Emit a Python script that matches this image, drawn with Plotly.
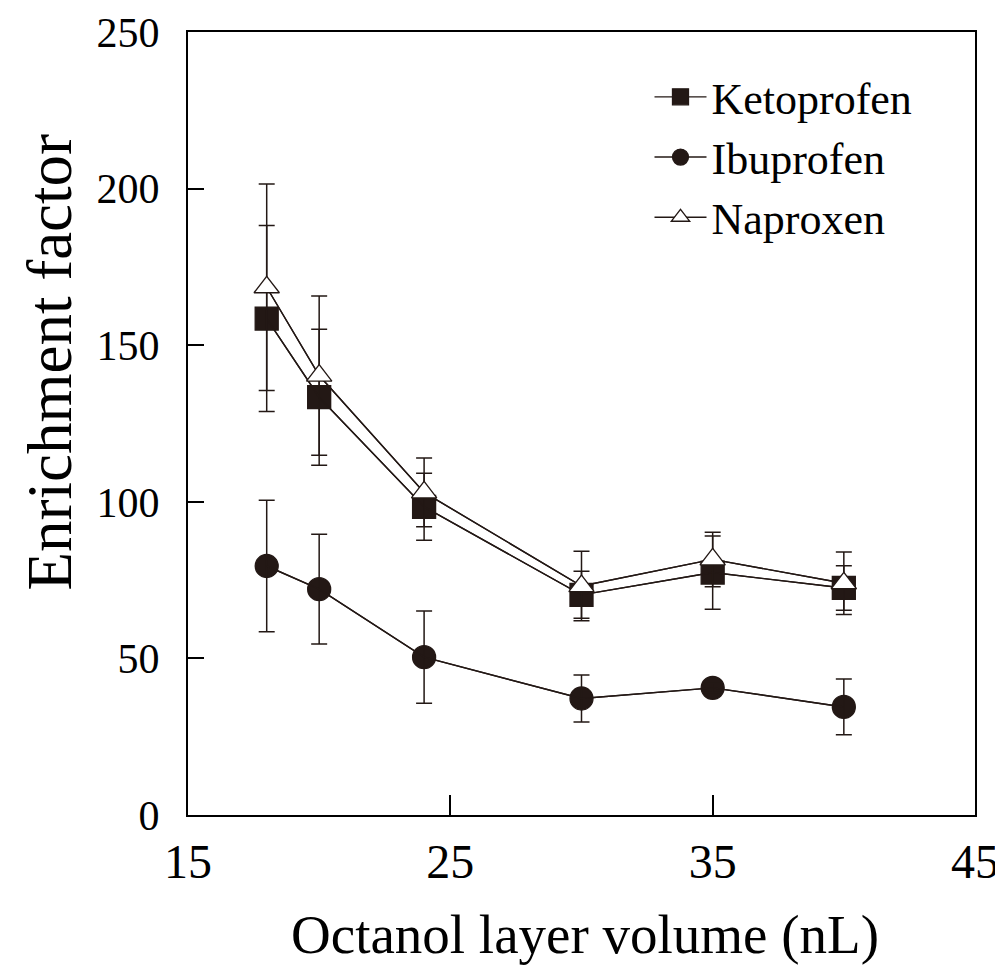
import plotly.graph_objects as go

volume = [18, 20, 24, 30, 35, 40]
keto = [158.5, 133.4, 98.4, 70.3, 77.4, 72.5]
keto_err = [29.7, 21.7, 10.7, 7.5, 11.7, 7.1]
ibu = [79.5, 72.1, 50.4, 37.2, 40.6, 34.5]
ibu_err = [21.0, 17.5, 14.7, 7.5, 1.5, 8.9]
napro = [168.5, 140.3, 103.0, 73.1, 81.6, 74.0]
napro_err = [33.0, 25.4, 11.0, 11.1, 8.7, 10.0]

x_ticks = [15, 25, 35, 45]
y_ticks = [0, 50, 100, 150, 200, 250]

INK = "#231815"
FONT = "Liberation Serif"

fig = go.Figure()


def marker_trace(name, y, symbol, fill, size):
    return go.Scatter(
        x=volume, y=y, name=name, mode="lines+markers",
        line=dict(color=INK, width=1.4),
        marker=dict(symbol=symbol, size=size, color=fill,
                    line=dict(color=INK, width=1.3)),
        showlegend=True,
    )


def line_trace(y, err):
    return go.Scatter(
        x=volume, y=y, mode="lines", showlegend=False, hoverinfo="skip",
        line=dict(color=INK, width=1.4),
        error_y=dict(type="data", array=err, visible=True, color=INK,
                     thickness=1.5, width=8),
    )


fig.add_trace(marker_trace("Ketoprofen", keto, "square", INK, 23))
fig.add_trace(line_trace(keto, keto_err))
fig.add_trace(marker_trace("Ibuprofen", ibu, "circle", INK, 23))
fig.add_trace(line_trace(ibu, ibu_err))
fig.add_trace(line_trace(napro, napro_err))
fig.add_trace(marker_trace("Naproxen", napro, "triangle-up", "white", 22))

fig.update_layout(
    width=995, height=957,
    margin=dict(l=180, r=28, t=24, b=150, pad=0, autoexpand=False),
    paper_bgcolor="white", plot_bgcolor="white",
    font=dict(family=FONT, color="black"),
    legend=dict(
        x=0.5864, y=0.962, xanchor="left", yanchor="top",
        bgcolor="rgba(0,0,0,0)", borderwidth=0,
        font=dict(family=FONT, size=44, color="black"),
        itemwidth=52, tracegroupgap=0, traceorder="normal",
    ),
    annotations=[
        dict(text="Enrichment factor", textangle=-90, showarrow=False,
             xref="paper", yref="paper", x=-0.1753, y=0.578,
             xanchor="center", yanchor="middle",
             font=dict(family=FONT, size=63, color="black")),
        dict(text="Octanol layer volume (nL)", showarrow=False,
             xref="paper", yref="paper", x=0.5044, y=-0.153,
             xanchor="center", yanchor="middle",
             font=dict(family=FONT, size=55, color="black")),
    ],
)

fig.update_xaxes(
    range=[15, 45], tickvals=x_ticks, ticktext=[str(v) for v in x_ticks],
    ticks="inside", ticklen=20, tickwidth=1.5, tickcolor="black",
    showline=True, linecolor="black", linewidth=2, mirror=True,
    showgrid=False, zeroline=False, automargin=False,
    tickfont=dict(family=FONT, size=48, color="black"),
    ticklabelstandoff=3,
)
fig.update_yaxes(
    range=[0, 250], tickvals=y_ticks, ticktext=[str(v) for v in y_ticks],
    ticks="inside", ticklen=16, tickwidth=1.5, tickcolor="black",
    showline=True, linecolor="black", linewidth=2, mirror=True,
    showgrid=False, zeroline=False, automargin=False,
    tickfont=dict(family=FONT, size=42, color="black"),
    ticklabelstandoff=18,
)

fig.write_html("out.html")
